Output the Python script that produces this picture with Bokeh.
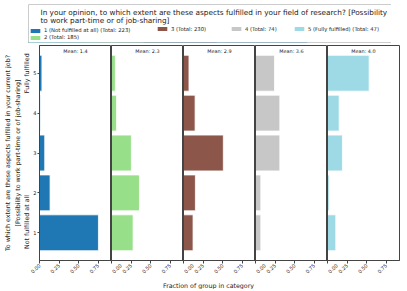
import math
from bokeh.plotting import figure
from bokeh.models import (Range1d, FixedTicker, LinearAxis, NumeralTickFormatter,
                          Label, Legend, LegendItem)
from bokeh.layouts import column, row
from bokeh.embed import file_html
from bokeh.resources import INLINE

# ---------------- data ----------------
CATEGORIES = [1, 2, 3, 4, 5]
GROUP_NAMES = ["1 (Not fulfilled at all)", "2", "3", "4", "5 (Fully fulfilled)"]
GROUP_TOTALS = [223, 185, 230, 74, 47]
GROUP_MEANS = [1.4, 2.3, 2.9, 3.6, 4.0]
FRAC_1 = [0.753, 0.135, 0.067, 0.013, 0.031]
FRAC_2 = [0.276, 0.357, 0.254, 0.065, 0.049]
FRAC_3 = [0.122, 0.152, 0.509, 0.148, 0.070]
FRAC_4 = [0.068, 0.068, 0.311, 0.311, 0.243]
FRAC_5 = [0.106, 0.021, 0.191, 0.149, 0.532]
FRACS = [FRAC_1, FRAC_2, FRAC_3, FRAC_4, FRAC_5]
COLORS = ["#1f77b4", "#98df8a", "#8c564b", "#c7c7c7", "#9edae5"]
X_TICKS = [0, 0.25, 0.5, 0.75]
TITLE_LINES = ["In your opinion, to which extent are these aspects fulfilled in your field of research? [Possibility",
               "to work part-time or of job-sharing]"]
YLABEL_LINES = ["To which extent are these aspects fulfilled in your current job?",
                "[Possibility to work part-time or of job-sharing]"]
END_LABELS = ["Not fulfilled at all", "Fully fulfilled"]
XLABEL = "Fraction of group in category"

# ---------------- style ----------------
FONT = "DejaVu Sans"
SPINE = "#444444"
TXT = "#222222"
FW, FH = 72, 215
LEFT = 28
X_MAX = 0.92
Y_LO, Y_HI = 0.305, 5.695
END_POS = [1.27, 5.0]
TICK_FS = "5px"
MEAN_FS = "4.9px"
LEG_FS = "5.3px"
LAB_FS = "6.3px"
TITLE_FS = "7.3px"

panels = []
for i, (frac, col) in enumerate(zip(FRACS, COLORS)):
    p = figure(frame_width=FW, frame_height=FH,
               x_range=Range1d(0, X_MAX), y_range=Range1d(Y_LO, Y_HI),
               output_backend="svg", toolbar_location=None,
               min_border_top=2, min_border_bottom=0,
               min_border_left=LEFT if i == 0 else 0,
               min_border_right=2 if i == 4 else 0)
    p.hbar(y=CATEGORIES, right=frac, left=0, height=0.9,
           fill_color=col, line_color="white", line_width=0.8)
    p.grid.visible = False
    p.outline_line_color = SPINE
    p.outline_line_width = 1

    xa = p.xaxis[0]
    xa.ticker = FixedTicker(ticks=X_TICKS)
    xa.formatter = NumeralTickFormatter(format="0.00")
    xa.major_label_orientation = math.pi / 4
    xa.major_label_text_font = FONT
    xa.major_label_text_font_size = TICK_FS
    xa.major_label_text_color = TXT
    xa.major_tick_out = 3
    xa.major_tick_in = 0
    xa.major_label_standoff = 1
    xa.minor_tick_line_color = None
    xa.axis_line_color = SPINE
    xa.major_tick_line_color = SPINE

    ya = p.yaxis[0]
    ya.ticker = FixedTicker(ticks=CATEGORIES)
    ya.axis_line_color = SPINE
    ya.minor_tick_line_color = None
    ya.major_tick_line_color = SPINE
    ya.major_label_text_font = FONT
    ya.major_label_text_color = TXT
    if i == 0:
        ya.major_tick_out = 2
        ya.major_tick_in = 0
        ya.major_label_standoff = 1
        ya.major_label_text_font_size = TICK_FS
        end_ax = LinearAxis(ticker=FixedTicker(ticks=END_POS),
                            major_label_overrides={END_POS[0]: END_LABELS[0],
                                                   END_POS[1]: END_LABELS[1]},
                            major_label_orientation="vertical",
                            axis_line_color=None, major_tick_line_color=None,
                            minor_tick_line_color=None, major_tick_out=0, major_tick_in=0,
                            major_label_standoff=0, major_label_text_font=FONT,
                            major_label_text_font_size=LAB_FS,
                            major_label_text_color=TXT)
        p.add_layout(end_ax, "left")
        for line in reversed(YLABEL_LINES):
            ax = LinearAxis(ticker=FixedTicker(ticks=[]), axis_label=line,
                            axis_label_standoff=0, axis_label_text_font=FONT,
                            axis_label_text_font_size=LAB_FS,
                            axis_label_text_font_style="normal",
                            axis_label_text_color=TXT,
                            major_tick_out=0, major_tick_in=0, major_label_standoff=0,
                            axis_line_color=None, major_tick_line_color=None,
                            minor_tick_line_color=None, major_label_text_font_size="0px")
            p.add_layout(ax, "left")
    else:
        ya.major_tick_out = 0
        ya.major_tick_in = 0
        ya.major_label_standoff = 0
        ya.major_label_text_font_size = "0px"

    p.add_layout(Label(x=FW / 2, y=FH - 5, x_units="screen", y_units="screen",
                       text=f"Mean: {GROUP_MEANS[i]:.1f}", text_align="center",
                       text_baseline="middle", text_font=FONT,
                       text_font_size=MEAN_FS, text_color=TXT))
    panels.append(p)

# ---------------- header (legend box) ----------------
HDR_LEFT = 20
HW = 370
HH = 38
hdr = figure(frame_width=HW, frame_height=HH, x_range=Range1d(0, 1), y_range=Range1d(10, 11),
             x_axis_location=None, y_axis_location=None,
             min_border_left=HDR_LEFT, min_border_right=1, min_border_top=4, min_border_bottom=1,
             output_backend="svg", toolbar_location=None)
hdr.grid.visible = False
hdr.outline_line_color = "#cccccc"
hdr.outline_line_width = 1

# legend proxies (same data, outside the header's visible range)
proxies = []
for frac, col in zip(FRACS, COLORS):
    r = hdr.hbar(y=CATEGORIES, right=frac, left=0, height=0.9, fill_color=col, line_color=None)
    proxies.append(r)

for j, line in enumerate(TITLE_LINES):
    hdr.add_layout(Label(x=12, y=HH - 8 - 8 * j, x_units="screen", y_units="screen",
                         text=line, text_baseline="middle", text_font=FONT,
                         text_font_size=TITLE_FS, text_color=TXT))

LEG_COLS = [[0, 1], [2], [3], [4]]
LEG_X = [2, 129, 203, 266]
for cols, lx in zip(LEG_COLS, LEG_X):
    items = [LegendItem(label=f"{GROUP_NAMES[k]} (Total: {GROUP_TOTALS[k]})",
                        renderers=[proxies[k]]) for k in cols]
    ly = 1.8 if len(cols) == 2 else 10.2
    leg = Legend(items=items, location=(HDR_LEFT + lx, ly), orientation="vertical",
                 padding=0, margin=0, spacing=1, border_line_color=None,
                 background_fill_alpha=0, label_text_font=FONT,
                 label_text_font_size=LEG_FS, label_text_color=TXT,
                 glyph_width=12, glyph_height=5, label_height=6, label_standoff=3)
    hdr.add_layout(leg)

# ---------------- footer (x axis title) ----------------
ftr = figure(frame_width=5 * FW, frame_height=11, x_range=Range1d(0, 1), y_range=Range1d(0, 1),
             x_axis_location=None, y_axis_location=None,
             min_border_left=LEFT, min_border_right=2, min_border_top=0, min_border_bottom=0,
             output_backend="svg", toolbar_location=None)
ftr.grid.visible = False
ftr.outline_line_color = None
ftr.add_layout(Label(x=2.5 * FW, y=5, x_units="screen", y_units="screen",
                     text=XLABEL, text_align="center", text_baseline="middle",
                     text_font=FONT, text_font_size=LAB_FS, text_color=TXT))

layout = column(hdr, row(*panels, spacing=0), ftr, spacing=0)
open("out.html", "w").write(file_html(layout, INLINE))
